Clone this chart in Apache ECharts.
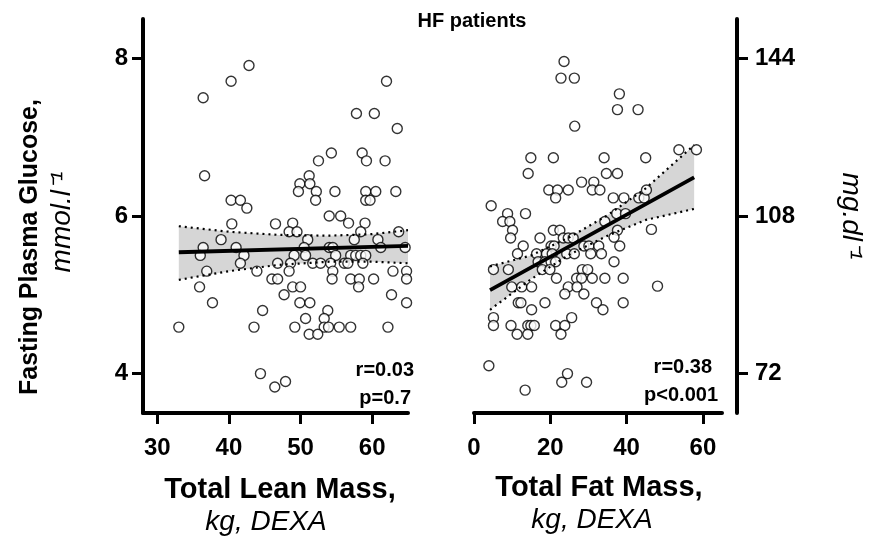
<!DOCTYPE html>
<html>
<head>
<meta charset="utf-8">
<script src="https://cdn.jsdelivr.net/npm/echarts@6/dist/echarts.min.js"></script>
<style>html,body{margin:0;padding:0;background:#fff}#c{width:869px;height:543px}</style>
</head>
<body>
<div id="c"></div>
<script>
// ---- data ----
const title = 'HF patients';
const leanTicks = [30, 40, 50, 60];
const fatTicks = [0, 20, 40, 60];
const mmolTicks = [4, 6, 8];
const mgTicks = [72, 108, 144];
const leanX = [42.8,40.3,36.4,36.6,40.3,41.6,42.5,40.4,46.5,62.0,57.8,60.3,63.5,54.3,58.6,59.2,61.8,52.5,51.2,49.9,51.3,49.7,52.2,54.8,59.1,60.5,63.3,52.1,59.1,59.7,54.0,55.6,56.7,59.0,48.9,38.9,36.4,36.0,41.0,42.1,41.6,36.9,43.9,46.8,35.9,46.0,46.8,37.7,44.7,33.0,43.5,44.4,46.4,47.9,48.4,49.5,58.4,63.7,51.0,57.5,60.8,54.0,54.5,50.5,61.2,64.6,49.1,50.7,54.9,57.0,57.7,58.4,59.1,48.6,51.7,52.8,54.2,56.1,56.6,58.7,48.4,54.5,62.9,64.8,54.4,57.0,58.2,60.2,64.8,58.1,48.9,50.0,47.7,49.9,51.3,62.7,64.8,53.8,50.7,53.3,49.2,53.3,53.9,55.4,57.0,62.2,51.2,52.4];
const leanY = [7.91,7.71,7.50,6.51,6.20,6.20,6.10,5.90,5.90,7.71,7.30,7.30,7.11,6.80,6.80,6.70,6.70,6.70,6.51,6.41,6.41,6.31,6.31,6.31,6.31,6.31,6.31,6.20,6.20,6.20,6.00,6.00,5.91,5.91,5.91,5.70,5.60,5.50,5.60,5.50,5.40,5.30,5.30,5.40,5.10,5.20,5.20,4.90,4.80,4.59,4.59,4.00,3.83,3.90,5.80,5.80,5.80,5.80,5.70,5.70,5.70,5.60,5.60,5.60,5.60,5.60,5.50,5.50,5.50,5.50,5.50,5.50,5.50,5.40,5.40,5.40,5.40,5.40,5.40,5.40,5.30,5.30,5.30,5.30,5.20,5.20,5.20,5.20,5.20,5.10,5.10,5.10,5.00,4.90,4.90,5.00,4.90,4.80,4.70,4.70,4.59,4.59,4.59,4.59,4.59,4.59,4.50,4.50];
const fatX = [23.6,22.8,26.3,26.4,14.9,20.8,14.2,28.2,31.4,19.6,21.9,24.7,21.4,4.5,8.8,13.5,7.5,9.4,38.1,37.6,43.0,53.7,58.3,34.1,45.0,34.7,37.6,31.0,33.0,36.5,39.3,43.2,44.6,45.2,37.4,39.7,34.3,46.5,10.1,9.6,20.8,22.5,17.3,23.4,24.7,26.0,12.9,20.2,21.0,28.8,30.1,11.4,16.4,19.0,20.5,24.3,26.3,30.6,16.8,18.6,20.2,21.4,5.1,9.0,17.9,19.9,28.4,29.8,21.6,26.9,28.2,31.0,9.9,12.5,15.1,24.7,27.0,23.8,28.8,11.6,12.3,18.6,15.1,5.1,25.6,5.1,9.7,14.1,14.9,15.8,21.4,23.8,11.3,14.1,22.8,3.9,24.5,23.0,29.5,13.4,37.6,36.7,32.7,38.2,33.4,36.7,34.3,39.1,48.1,32.1,33.8,39.1];
const fatY = [7.96,7.75,7.75,7.14,6.74,6.74,6.54,6.43,6.43,6.33,6.33,6.33,6.23,6.13,6.03,6.03,5.93,5.93,7.55,7.35,7.35,6.84,6.84,6.74,6.74,6.54,6.54,6.33,6.33,6.23,6.23,6.23,6.23,6.33,6.03,6.03,5.93,5.83,5.82,5.72,5.82,5.82,5.72,5.72,5.72,5.72,5.62,5.62,5.62,5.62,5.62,5.52,5.52,5.52,5.52,5.52,5.52,5.52,5.42,5.42,5.42,5.42,5.32,5.32,5.32,5.32,5.32,5.32,5.21,5.21,5.21,5.21,5.10,5.10,5.10,5.10,5.10,5.01,5.01,4.90,4.90,4.90,4.81,4.71,4.71,4.61,4.61,4.61,4.61,4.61,4.61,4.61,4.50,4.50,4.50,4.10,4.00,3.89,3.89,3.79,5.82,5.73,5.62,5.62,5.52,5.42,5.21,5.21,5.11,4.90,4.81,4.90];
// regression fits and confidence bands
const leanFitX = [33, 65];
const leanFitY = [5.54, 5.62];
const leanBandX = [33, 40, 47, 54, 60, 65];
const leanBandUp = [5.87, 5.80, 5.76, 5.75, 5.77, 5.82];
const leanBandLo = [5.19, 5.30, 5.38, 5.42, 5.42, 5.40];
const fatFitX = [4.2, 57.7];
const fatFitY = [5.06, 6.49];
const fatBandX = [4.2, 15, 25, 35, 45, 57.7];
const fatBandUp = [5.36, 5.50, 5.73, 6.01, 6.35, 6.90];
const fatBandLo = [4.81, 5.20, 5.51, 5.75, 5.95, 6.09];
const leanStats = ['r=0.03', 'p=0.7'];
const fatStats = ['r=0.38', 'p<0.001'];

const FONT = '"Liberation Sans", Arial, sans-serif';
const zip = (a, b) => a.map((v, i) => [v, b[i]]);

function axisCommon(ticks) {
  return {
    splitLine: {show: false},
    axisLine: {show: true, lineStyle: {color: '#000', width: 4}},
    axisTick: {show: true, length: 11, lineStyle: {color: '#000', width: 3}, customValues: ticks},
    axisLabel: {color: '#000', fontFamily: FONT, fontWeight: 'bold', fontSize: 24, customValues: ticks}
  };
}
function xAx(grid, min, max, ticks) {
  const a = axisCommon(ticks);
  a.axisLabel.margin = 23;
  return Object.assign({type: 'value', gridIndex: grid, min, max, position: 'bottom'}, a);
}
function yAx(grid, min, max, ticks, pos, offset, margin) {
  const a = axisCommon(ticks);
  a.axisLabel.margin = margin;
  return Object.assign({type: 'value', gridIndex: grid, min, max, position: pos, offset}, a);
}
function band(xi, yi, bx, up, lo) {
  return {
    type: 'custom', xAxisIndex: xi, yAxisIndex: yi, z: 1, silent: true,
    data: [[bx[0], lo[0]]],
    renderItem(params, api) {
      const pts = [];
      bx.forEach((x, i) => pts.push(api.coord([x, up[i]])));
      for (let i = bx.length - 1; i >= 0; i--) pts.push(api.coord([bx[i], lo[i]]));
      return {type: 'polygon', shape: {points: pts}, style: {fill: '#d6d6d6', stroke: null}};
    }
  };
}
function lineS(xi, yi, xs, ys, dotted) {
  return {
    type: 'line', xAxisIndex: xi, yAxisIndex: yi, data: zip(xs, ys), showSymbol: false, z: 5, silent: true,
    lineStyle: dotted ? {color: '#000', width: 2.2, type: [2, 4]} : {color: '#000', width: 3.8}
  };
}
function scat(xi, yi, xs, ys) {
  return {
    type: 'scatter', xAxisIndex: xi, yAxisIndex: yi, data: zip(xs, ys), symbol: 'circle', symbolSize: 10, z: 3,
    itemStyle: {color: '#fff', borderColor: '#000', borderWidth: 1.4}
  };
}
function txt(x, y, text, opts) {
  return {type: 'text', x, y, rotation: (opts && opts.rot) || 0,
    style: {text, fill: '#000', font: (opts && opts.font) || ('bold 24px ' + FONT),
      align: (opts && opts.align) || 'center', verticalAlign: 'middle'}};
}

const chart = echarts.init(document.getElementById('c'), null, {renderer: 'canvas'});
chart.setOption({
  animation: false,
  backgroundColor: '#fff',
  grid: [
    {left: 143, top: 19, width: 265, height: 394},
    {left: 474, top: 19, width: 248, height: 394}
  ],
  xAxis: [xAx(0, 28, 65, leanTicks), xAx(1, 0, 65, fatTicks)],
  yAxis: [
    yAx(0, 3.5, 8.5, mmolTicks, 'left', 0, 15),
    Object.assign(yAx(1, 3.5, 8.5, mmolTicks, 'left', 0, 15), {show: false}),
    yAx(1, 63, 153, mgTicks, 'right', 15, 18)
  ],
  series: [
    band(0, 0, leanBandX, leanBandUp, leanBandLo),
    band(1, 1, fatBandX, fatBandUp, fatBandLo),
    scat(0, 0, leanX, leanY),
    scat(1, 1, fatX, fatY),
    lineS(0, 0, leanBandX, leanBandUp, true),
    lineS(0, 0, leanBandX, leanBandLo, true),
    lineS(1, 1, fatBandX, fatBandUp, true),
    lineS(1, 1, fatBandX, fatBandLo, true),
    lineS(0, 0, leanFitX, leanFitY, false),
    lineS(1, 1, fatFitX, fatFitY, false)
  ],
  graphic: [
    txt(472, 21, title, {font: 'bold 20px ' + FONT}),
    txt(30, 247, 'Fasting Plasma Glucose,', {rot: Math.PI / 2, font: 'bold 25px ' + FONT}),
    txt(62, 222, 'mmol.l\u207B\u00B9', {rot: Math.PI / 2, font: 'italic 28px ' + FONT}),
    txt(851, 216, 'mg.dl\u207B\u00B9', {rot: -Math.PI / 2, font: 'italic 28px ' + FONT}),
    txt(280, 490, 'Total Lean Mass,', {font: 'bold 29px ' + FONT}),
    txt(266, 522, 'kg, DEXA', {font: 'italic 28px ' + FONT}),
    txt(599, 488, 'Total Fat Mass,', {font: 'bold 29px ' + FONT}),
    txt(592, 520, 'kg, DEXA', {font: 'italic 28px ' + FONT}),
    txt(414, 370, leanStats[0], {align: 'right', font: 'bold 20px ' + FONT}),
    txt(411, 398, leanStats[1], {align: 'right', font: 'bold 20px ' + FONT}),
    txt(712, 367, fatStats[0], {align: 'right', font: 'bold 20px ' + FONT}),
    txt(718, 395, fatStats[1], {align: 'right', font: 'bold 20px ' + FONT})
  ]
});
</script>
</body>
</html>
